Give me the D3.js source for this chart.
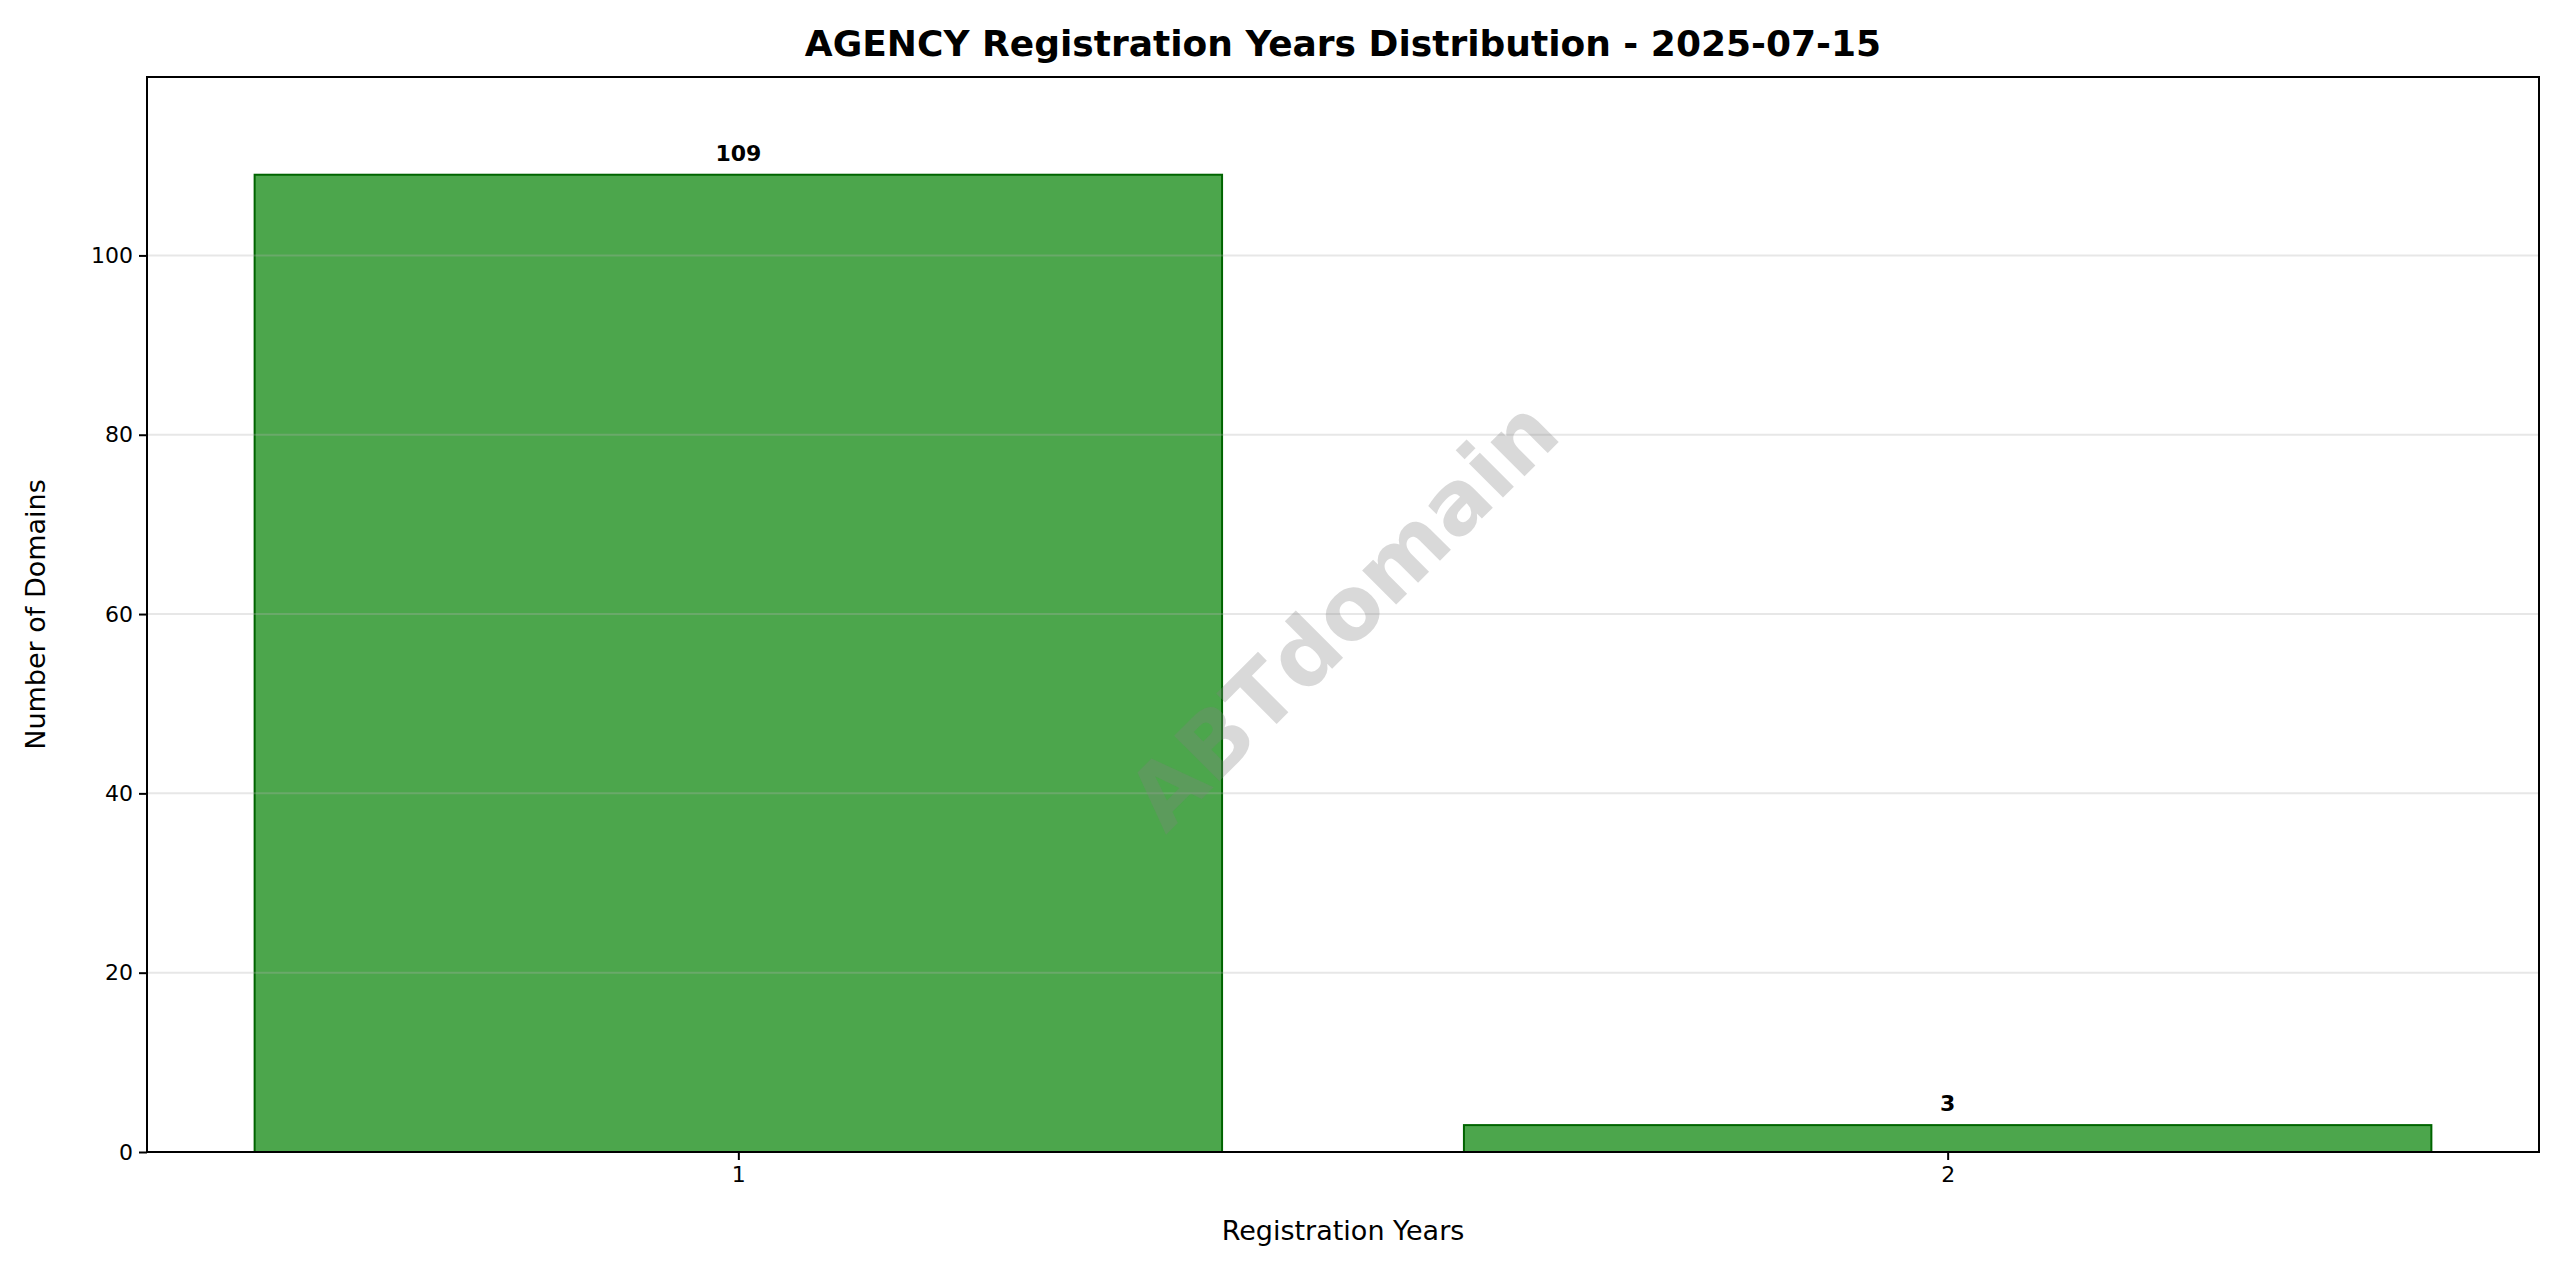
<!DOCTYPE html>
<html><head><meta charset="utf-8">
<script src="https://cdn.jsdelivr.net/npm/d3@7"></script>
<style>body{margin:0;background:#fff}text{font-family:"DejaVu Sans",sans-serif}</style>
</head><body>
<svg id="chart" width="2560" height="1271"></svg>
<script>
const years = [1, 2];
const counts = [109, 3];
const yTicks = [0, 20, 40, 60, 80, 100];

const svg = d3.select('#chart');
const m = {left: 147, right: 2539, top: 77, bottom: 1152};

const x = d3.scaleLinear().domain([0.511, 2.489]).range([m.left, m.right]);
const y = d3.scaleLinear().domain([0, 119.9]).range([m.bottom, m.top]);
const bw = x(1.4) - x(0.6);

// bars
svg.selectAll('rect.bar').data(years).enter().append('rect')
  .attr('class', 'bar')
  .attr('x', d => x(d) - bw / 2)
  .attr('y', (d, i) => y(counts[i]))
  .attr('width', bw)
  .attr('height', (d, i) => y(0) - y(counts[i]))
  .attr('fill', 'rgba(0,128,0,0.7)')
  .attr('stroke', 'darkgreen').attr('stroke-width', 2);

// grid
svg.selectAll('line.grid').data(yTicks.slice(1)).enter().append('line')
  .attr('x1', m.left).attr('x2', m.right)
  .attr('y1', d => y(d)).attr('y2', d => y(d))
  .attr('stroke', '#b0b0b0').attr('stroke-opacity', 0.3).attr('stroke-width', 2);

// value labels
svg.selectAll('text.val').data(years).enter().append('text')
  .attr('x', d => x(d))
  .attr('y', (d, i) => y(counts[i]) - 14)
  .attr('text-anchor', 'middle').attr('font-size', 22).attr('font-weight', 'bold')
  .text((d, i) => counts[i]);

// watermark
svg.append('text')
  .attr('transform', `translate(${(m.left + m.right) / 2},${(m.top + m.bottom) / 2}) rotate(-45)`)
  .attr('text-anchor', 'middle').attr('dominant-baseline', 'central')
  .attr('font-size', 88).attr('font-weight', 'bold')
  .attr('fill', 'gray').attr('fill-opacity', 0.3)
  .text('ABTdomain');

// axes
const ya = svg.append('g').attr('transform', `translate(${m.left},0)`)
  .call(d3.axisLeft(y).tickValues(yTicks).tickSize(8).tickPadding(6));
const xa = svg.append('g').attr('transform', `translate(0,${m.bottom})`)
  .call(d3.axisBottom(x).tickValues(years).tickFormat(d3.format('d')).tickSize(8).tickPadding(6));
[ya, xa].forEach(g => {
  g.selectAll('text').attr('font-size', 22).attr('font-family', 'DejaVu Sans').attr('fill', '#000');
  g.selectAll('line').attr('stroke-width', 2);
  g.select('.domain').remove();
});

svg.append('rect').attr('x', m.left).attr('y', m.top)
  .attr('width', m.right - m.left).attr('height', m.bottom - m.top)
  .attr('fill', 'none').attr('stroke', '#000').attr('stroke-width', 2);

// titles
svg.append('text').attr('x', (m.left + m.right) / 2).attr('y', 56)
  .attr('text-anchor', 'middle').attr('font-size', 36).attr('font-weight', 'bold')
  .text('AGENCY Registration Years Distribution - 2025-07-15');
svg.append('text').attr('x', (m.left + m.right) / 2).attr('y', 1240)
  .attr('text-anchor', 'middle').attr('font-size', 27)
  .text('Registration Years');
svg.append('text').attr('transform', `translate(45,${(m.top + m.bottom) / 2}) rotate(-90)`)
  .attr('text-anchor', 'middle').attr('font-size', 27)
  .text('Number of Domains');
</script>
</body></html>
